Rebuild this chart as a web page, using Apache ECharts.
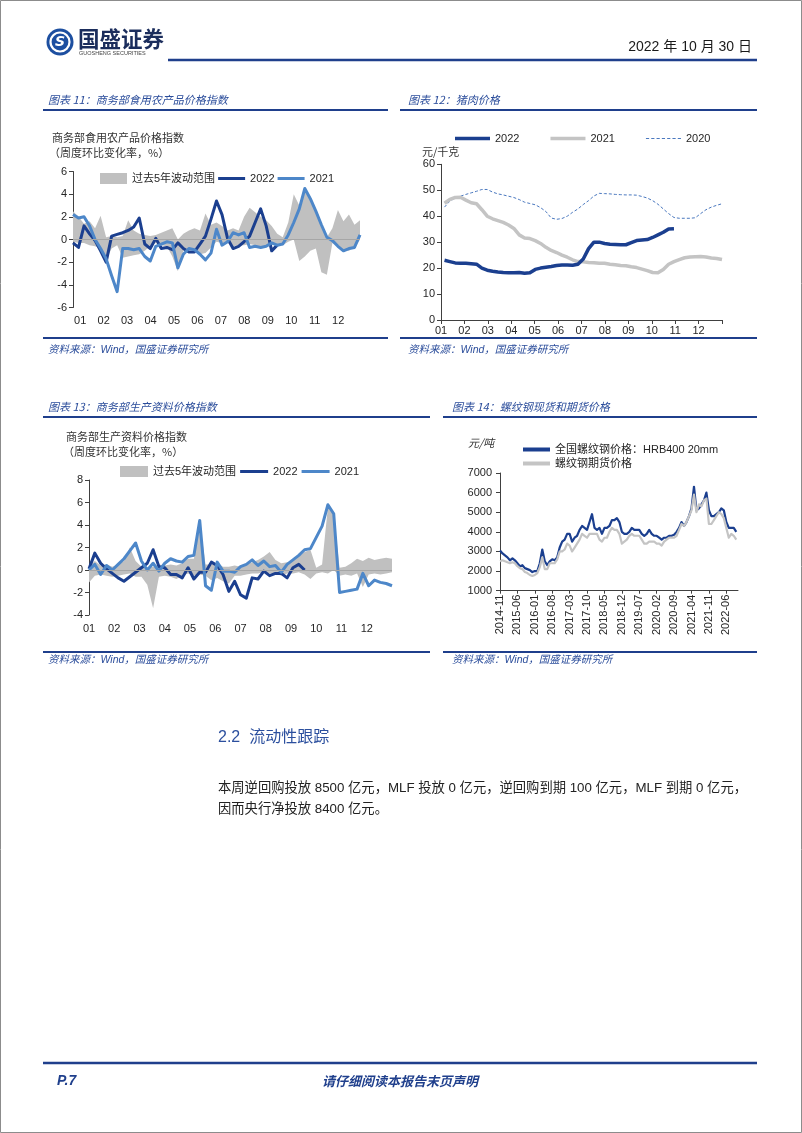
<!DOCTYPE html>
<html><head><meta charset="utf-8">
<script src="https://cdn.jsdelivr.net/npm/echarts@6/dist/echarts.min.js"></script>
<style>html,body{margin:0;padding:0;background:#fff}#c{width:802px;height:1133px}</style>
</head><body><div id="c"></div>
<script>
// ---------------- DATA ----------------
const monthLabels = ['01','02','03','04','05','06','07','08','09','10','11','12'];

// 图表11 商务部食用农产品价格指数 (weekly, % w/w)
const foodBandHigh = [2.5,2.0,1.4,1.6,1.0,2.1,0.2,0.3,0.2,0.3, 1.7,0.8,0.5,0.4,0.3,0.4,0.6,0.8,1.0,0.0, 0.5,0.8,1.0,0.8,2.3,1.3,1.5,1.2,0.8,1.0, 0.8,2.0,2.8,2.4,2.0,1.7,1.2,0.5,0.2,1.5, 4.0,3.0,4.4,3.5,2.4,1.3,0.2,1.0,2.6,1.6, 2.2,1.3,1.7];
const foodBandLow = [-0.2,-0.3,-0.3,-0.5,-0.6,-0.8,-1.8,-0.8,-0.5,-1.6, -1.5,-1.4,-1.3,-1.0,-0.6,-0.3,-0.5,-0.6,-1.5,-2.8, -1.0,-0.8,-0.9,-1.3,-1.2,-0.7,-0.2,-0.3,-0.3,-0.6, -0.5,-0.5,-0.4,-0.5,-0.7,-0.6,-0.5,-0.4,-0.5,-0.2, 0.0,-1.9,-1.5,-1.0,-0.8,-2.9,-3.1,-0.3,-0.5,-0.9, -1.0,-0.7,0.0];
const food2022 = [-0.3,-0.7,1.2,0.5,-0.1,-1.0,-2.0,0.3,0.45,0.6, 0.8,1.1,1.9,-0.4,-0.8,0.1,-0.8,-0.7,-0.9,-0.3, -0.8,-1.1,-1.1,-0.4,0.3,1.8,3.4,2.2,0.1,-0.8, -0.6,-0.2,0.3,1.5,2.7,1.2,-1.0,-0.5];
const food2021 = [2.2,1.9,2.0,1.2,0.0,-0.8,-1.7,-3.2,-4.6,-0.8, -0.8,-0.9,-0.8,-1.5,-1.9,-0.6,-0.4,-0.2,-0.3,-2.5, -1.3,-0.8,-0.9,-1.3,-1.8,-1.2,0.9,-0.5,-0.2,0.6, 0.4,0.6,-0.7,-0.6,-0.7,-0.6,-0.3,-0.5,-0.4,0.4, 1.5,2.7,4.5,3.6,2.5,1.3,0.2,-0.1,-0.6,-1.0, -0.8,-0.7,0.4];

// 图表12 猪肉价格 (元/千克, weekly)
const pork2022 = [23.0,22.5,22.0,21.9,21.9,21.7,21.5,20.0,19.2,18.8, 18.5,18.3,18.2,18.2,18.3,18.0,18.2,19.5,20.0,20.3, 20.6,21.0,21.2,21.2,21.1,21.5,23.5,27.5,30.0,30.0, 29.5,29.2,29.1,29.0,29.0,29.8,30.6,30.8,31.0,31.8, 32.8,33.8,35.1,35.2];
const pork2021 = [45.0,46.5,47.2,47.3,46.2,45.2,44.8,42.5,40.0,39.0, 38.3,37.6,36.6,35.3,32.8,31.6,31.4,30.6,29.5,28.0, 26.8,26.0,25.0,24.2,23.2,22.5,22.4,22.2,22.1,21.9, 21.9,21.5,21.3,21.0,20.9,20.5,20.2,19.6,19.0,18.3, 18.2,19.5,21.5,22.5,23.3,24.0,24.3,24.4,24.5,24.3, 23.9,23.7,23.3];
const pork2020 = [43.5,45.8,47.0,47.7,48.4,49.0,49.6,50.3,50.3,49.3, 48.6,48.2,47.7,47.2,46.4,45.4,44.9,44.4,43.3,41.8, 39.3,38.8,39.1,40.0,41.5,42.8,44.5,46.0,47.8,48.8, 48.7,48.6,48.4,48.3,48.2,48.2,48.1,47.6,47.0,46.0, 44.6,42.8,41.0,39.5,39.2,39.2,39.2,39.4,41.0,42.5, 43.5,44.2,44.8];

// 图表13 商务部生产资料价格指数 (weekly, % w/w)
const prodBandHigh = [0.3,0.8,0.4,0.5,0.3,0.5,0.8,2.0,0.8,0.3, 0.2,0.3,0.5,0.4,0.5,0.4,0.6,1.0,1.0,4.3, 0.5,0.5,0.6,0.3,0.3,0.4,0.3,0.5,0.7,0.9, 1.2,1.6,0.9,0.6,0.7,0.8,1.2,1.6,1.8,0.2, 0.5,5.6,5.0,0.2,0.3,0.6,1.0,0.8,1.1,0.9, 1.0,1.1,1.0];
const prodBandLow = [-1.1,-0.5,-0.4,-0.5,-0.6,-0.5,-0.4,-0.3,-0.6,-0.6, -1.3,-3.4,-0.6,-0.5,-0.6,-0.8,-0.5,-0.3,-0.5,-0.4, -0.5,-0.9,-0.7,-1.0,-1.2,-0.5,-0.5,-0.4,-0.3,-0.3, -0.2,-0.3,-0.3,-0.5,-0.3,-0.3,-0.2,-0.4,-0.8,-0.3, -0.2,-0.3,0.0,-0.5,-0.4,-0.5,-0.3,-1.5,-0.4,-0.3, -0.4,-0.3,-0.2];
const prod2022 = [0.1,1.5,0.6,0.1,-0.3,-0.7,-1.0,-0.6,-0.2,0.2, 0.6,1.8,0.3,0.2,-0.4,-0.4,-0.7,0.2,-0.8,-0.2, -0.2,0.7,0.4,-0.4,-1.9,-1.0,-2.2,-2.5,-0.7,-0.8, -0.1,-0.5,-0.3,-0.3,-0.7,0.2,0.5,0.0];
const prod2021 = [0.0,0.5,-0.4,0.4,0.0,0.5,1.0,1.7,2.4,0.8, 0.0,0.6,-0.1,0.6,1.0,0.8,0.7,1.2,1.3,4.4, -1.4,-1.8,0.7,-0.1,-0.1,-0.2,0.3,0.5,0.9,0.4, 0.8,0.3,0.4,-0.2,0.5,0.9,1.3,1.8,1.9,2.9, 3.9,5.8,5.0,-2.0,-1.9,-1.8,-1.7,-0.3,-1.4,-0.9, -1.1,-1.2,-1.4];

// 图表14 螺纹钢现货和期货价格 (元/吨, monthly from 2014-11)
const steelLabels = ['2014-11','2015-06','2016-01','2016-08','2017-03','2017-10','2018-05','2018-12','2019-07','2020-02','2020-09','2021-04','2021-11','2022-06'];
const steelSpot = [3050,2900,
 2800,2700,2550,2650,2550,2400,2250,2300,2150,2100,2050,1950,
 2000,2000,2400,3100,2500,2300,2500,2600,2550,2700,3200,3500,
 3600,3900,3900,3500,3700,3800,4100,4300,4200,4100,4500,4900,
 4200,4100,4200,3900,4200,4200,4300,4600,4600,4700,4500,4000,
 3900,3900,4000,4200,4100,4100,4100,3900,3800,3900,4100,3900,
 3800,3800,3700,3600,3700,3700,3800,3800,3850,4000,4200,4500,
 4300,4500,4800,5200,6300,5100,5200,5400,5600,6000,5100,4800,
 4800,4900,5000,5200,5100,4500,4200,4200,4200,4000];
const steelFutures = [2500,2550,
 2500,2450,2400,2450,2400,2250,2150,2100,1950,1900,1800,1750,
 1800,1900,2200,2700,2100,2100,2400,2400,2400,2600,3000,3000,
 3100,3400,3300,3000,3200,3400,3600,3900,3800,3700,3900,3900,
 3900,3900,3600,3500,3700,3700,4000,4200,4100,4100,3900,3400,
 3500,3600,3800,3900,3800,3800,3800,3600,3400,3400,3500,3500,
 3500,3400,3400,3300,3500,3600,3700,3700,3700,3800,4100,4400,
 4300,4500,4800,5100,5900,5000,5400,5300,5600,5700,4400,4400,
 4600,4800,5000,4900,4700,4200,3700,3900,3800,3600];

// ---------------- STYLE ----------------
const FONT = "'Liberation Sans', 'Noto Sans CJK SC', sans-serif";
const CJK = "'Noto Sans CJK SC', sans-serif";
const C = {dark:'#1b3f8f', light:'#4d87c9', band:'#c0c0c0', gray:'#c4c4c4', dash:'#4a78bf',
  axis:'#404040', zero:'#a6a6a6', text:'#262626', title:'#2b4d9b', rule:'#1f3f8c'};

const chart = echarts.init(document.getElementById('c'), null, {renderer:'canvas', width:802, height:1133});

function T(text, x, y, font, fill, align) {
  return {type:'text', silent:true, style:{text, x, y, font, fill, align: align || 'left', verticalAlign:'middle'}};
}
function L(x1, x2, y, w, color) {
  return {type:'line', silent:true, shape:{x1, y1:y, x2, y2:y}, style:{stroke:color, lineWidth:w}};
}
// legend icons: solid bar / dashed bar as paths
const barIcon = (w, h) => `path://M0,0H${w}V${h}H0Z`;
function dashIcon(w, h, on, off) {
  let d = '';
  for (let x = 0; x < w; x += on + off) d += `M${x},0H${Math.min(x + on, w)}V${h}H${x}Z`;
  return 'path://' + d;
}

const weeks = n => Array.from({length:n}, (_, i) => i);
const diff = (a, b) => a.map((v, i) => +(v - b[i]).toFixed(2));
const labelPos11 = monthLabels.map((_, i) => +(1.3 + i * 4.25).toFixed(2));
const labelPos13 = monthLabels.map((_, i) => +(i * 52 / 12).toFixed(2));
const porkX = w => 0.15 + w * (11.85 / 52);
const steelLabelIdx = steelLabels.map((_, i) => i * 7);

const axisLineStyle = {show:true, lineStyle:{color:C.axis, width:1}};
const yTick = {show:true, length:4, lineStyle:{color:C.axis}};
const lbl = {fontSize:11, color:C.text, fontFamily:FONT};

function weekXAxis(grid) {
  return {type:'category', gridIndex:grid, data:weeks(53), boundaryGap:false,
    axisLine:{show:false}, axisTick:{show:false}, splitLine:{show:false}, axisLabel:{show:false}};
}
function monthLabelAxis(grid, pos) {
  return {type:'value', gridIndex:grid, min:0, max:52, position:'bottom',
    axisLine:{show:false}, axisTick:{show:false}, splitLine:{show:false},
    axisLabel:Object.assign({}, lbl, {margin:8, customValues:pos,
      formatter:v => { const k = pos.indexOf(v); return k >= 0 ? monthLabels[k] : ''; }})};
}
function pctYAxis(grid, min, max) {
  return {type:'value', gridIndex:grid, min, max, interval:2, axisLine:axisLineStyle, axisTick:yTick,
    splitLine:{show:false}, axisLabel:Object.assign({}, lbl, {margin:6})};
}
function lineSeries(name, xi, data, color, width, z, extra) {
  return Object.assign({type:'line', name, xAxisIndex:xi, yAxisIndex:xi, data, symbol:'none',
    lineStyle:{color, width, join:'round'}, itemStyle:{color}, z, silent:true}, extra || {});
}
function bandSeries(name, xi, low, high, stackId) {
  return [
    {type:'line', name:stackId + 'base', xAxisIndex:xi, yAxisIndex:xi, data:low, stack:stackId, stackStrategy:'all',
      symbol:'none', lineStyle:{opacity:0, width:0}, z:1, silent:true},
    {type:'line', name, xAxisIndex:xi, yAxisIndex:xi, data:diff(high, low), stack:stackId, stackStrategy:'all',
      symbol:'none', lineStyle:{opacity:0, width:0}, areaStyle:{color:C.band, opacity:1}, itemStyle:{color:C.band}, z:1, silent:true}
  ];
}
const zeroLine = {silent:true, symbol:'none', label:{show:false}, lineStyle:{color:C.zero, width:1, type:'solid'}, data:[{yAxis:0}]};
const legendText = {fontSize:11, color:C.text, fontFamily:FONT};
const nameFmt = n => n.split('|')[0];
const li = (name, icon, color) => ({name, icon, itemStyle:{color, borderWidth:0}});

const graphics = [
  {type:'rect', silent:true, shape:{x:0.5, y:0.5, width:801, height:1132}, style:{fill:null, stroke:'#8c8c8c', lineWidth:1}},
  // logo
  {type:'circle', silent:true, shape:{cx:60, cy:42, r:13.5}, style:{fill:'#1d4fa0'}},
  {type:'circle', silent:true, shape:{cx:60, cy:42, r:9.5}, style:{fill:null, stroke:'#ffffff', lineWidth:2.2}},
  T('S', 60, 42.5, "bold italic 14px 'DejaVu Sans'", '#ffffff', 'center'),
  T('国盛证券', 78, 39, "bold 21.5px " + CJK, '#1b2d5c'),
  T('GUOSHENG SECURITIES', 79, 53, "5.5px 'Liberation Sans'", '#444444'),
  T('2022 年 10 月 30 日', 752, 47, "14px " + FONT, '#1a1a1a', 'right'),
  L(168, 757, 60, 2.5, C.rule),
  // chart titles & rules
  T('图表 11：商务部食用农产品价格指数', 48, 100, "italic 11px " + CJK, C.title),
  T('图表 12：猪肉价格', 408, 100, "italic 11px " + CJK, C.title),
  L(43, 388, 110, 2, C.rule), L(400, 757, 110, 2, C.rule),
  L(43, 388, 338, 2, C.rule), L(400, 757, 338, 2, C.rule),
  T('资料来源：Wind，国盛证券研究所', 48, 350, "italic 10.5px " + FONT, C.title),
  T('资料来源：Wind，国盛证券研究所', 408, 350, "italic 10.5px " + FONT, C.title),
  T('图表 13：商务部生产资料价格指数', 48, 407, "italic 11px " + CJK, C.title),
  T('图表 14：螺纹钢现货和期货价格', 452, 407, "italic 11px " + CJK, C.title),
  L(43, 430, 417, 2, C.rule), L(443, 757, 417, 2, C.rule),
  L(43, 430, 652, 2, C.rule), L(443, 757, 652, 2, C.rule),
  T('资料来源：Wind，国盛证券研究所', 48, 660, "italic 10.5px " + FONT, C.title),
  T('资料来源：Wind，国盛证券研究所', 452, 660, "italic 10.5px " + FONT, C.title),
  // axis captions
  T('商务部食用农产品价格指数', 52, 138, "11px " + CJK, '#333333'),
  T('（周度环比变化率，%）', 49, 153, "11px " + CJK, '#333333'),
  T('元/千克', 422, 152, "11px " + CJK, '#333333'),
  T('商务部生产资料价格指数', 66, 437, "11px " + CJK, '#333333'),
  T('（周度环比变化率，%）', 63, 452, "11px " + CJK, '#333333'),
  T('元/吨', 468, 443, "italic 11px " + CJK, '#333333'),
  // body text
  T('2.2  流动性跟踪', 218, 738, "16px " + FONT, '#2b4f9e'),
  T('本周逆回购投放 8500 亿元，MLF 投放 0 亿元，逆回购到期 100 亿元，MLF 到期 0 亿元，', 218, 788, "13.3px " + FONT, '#222222'),
  T('因而央行净投放 8400 亿元。', 218, 809, "13.3px " + FONT, '#222222'),
  // footer
  L(43, 757, 1063, 2.5, C.rule),
  T('P.7', 57, 1081, "bold italic 14px " + FONT, C.rule),
  T('请仔细阅读本报告末页声明', 400, 1081, "italic bold 13px " + CJK, C.rule, 'center')
];

const option = {
  animation:false,
  backgroundColor:'#ffffff',
  textStyle:{fontFamily:FONT},
  graphic:graphics,
  grid:[
    {left:73, top:171.5, width:287, height:136},
    {left:441, top:164.3, width:281, height:155.7},
    {left:89, top:480, width:303, height:135},
    {left:500, top:473, width:238, height:117.7}
  ],
  xAxis:[
    weekXAxis(0),
    {type:'value', gridIndex:1, min:0, max:12, interval:1, axisLine:axisLineStyle,
      axisTick:{show:true, length:4, lineStyle:{color:C.axis}}, splitLine:{show:false},
      axisLabel:Object.assign({}, lbl, {margin:5, formatter:v => v < 12 ? monthLabels[v] : ''})},
    weekXAxis(2),
    {type:'value', gridIndex:3, min:0, max:95.7, axisLine:axisLineStyle,
      axisTick:{show:true, length:3, customValues:steelLabelIdx, lineStyle:{color:C.axis}}, splitLine:{show:false},
      axisLabel:Object.assign({}, lbl, {margin:4, rotate:90, customValues:steelLabelIdx,
        formatter:v => steelLabels[steelLabelIdx.indexOf(v)] || ''})},
    monthLabelAxis(0, labelPos11),
    monthLabelAxis(2, labelPos13)
  ],
  yAxis:[
    pctYAxis(0, -6, 6),
    {type:'value', gridIndex:1, min:0, max:60, interval:10, axisLine:axisLineStyle, axisTick:yTick,
      splitLine:{show:false}, axisLabel:Object.assign({}, lbl, {margin:6})},
    pctYAxis(2, -4, 8),
    {type:'value', gridIndex:3, min:1000, max:7000, interval:1000, axisLine:axisLineStyle, axisTick:yTick,
      splitLine:{show:false}, axisLabel:Object.assign({}, lbl, {margin:8, formatter:v => String(v)})}
  ],
  legend:[
    {left:100, top:173, padding:0, itemWidth:27, itemHeight:11, itemGap:3, selectedMode:false, textStyle:legendText, formatter:nameFmt,
      data:[li('过去5年波动范围|a', 'rect', C.band), li('2022|a', barIcon(27, 3), C.dark), li('2021|a', barIcon(27, 3), C.light)]},
    {left:455, top:133, padding:0, itemWidth:35, itemHeight:11, itemGap:31, selectedMode:false, textStyle:legendText, formatter:nameFmt,
      data:[li('2022|b', barIcon(35, 3.5), C.dark), li('2021|b', barIcon(35, 3.5), C.gray), li('2020', dashIcon(35, 1, 3, 2), C.dash)]},
    {left:120, top:466, padding:0, itemWidth:28, itemHeight:11, itemGap:4, selectedMode:false, textStyle:legendText, formatter:nameFmt,
      data:[li('过去5年波动范围|b', 'rect', C.band), li('2022|c', barIcon(28, 3), C.dark), li('2021|c', barIcon(28, 3), C.light)]},
    {left:523, top:444, padding:0, orient:'vertical', itemWidth:27, itemHeight:11, itemGap:3, selectedMode:false, textStyle:legendText,
      data:[li('全国螺纹钢价格：HRB400 20mm', barIcon(27, 4), C.dark), li('螺纹钢期货价格', barIcon(27, 4), C.gray)]}
  ],
  series:[
    ...bandSeries('过去5年波动范围|a', 0, foodBandLow, foodBandHigh, 'b11'),
    lineSeries('2022|a', 0, food2022, C.dark, 3, 3, {markLine:zeroLine}),
    lineSeries('2021|a', 0, food2021, C.light, 3, 4),

    lineSeries('2020', 1, pork2020.map((v, w) => [porkX(w), v]), C.dash, 1, 2, {lineStyle:{color:C.dash, width:1, type:[3, 2]}}),
    lineSeries('2021|b', 1, pork2021.map((v, w) => [porkX(w), v]), C.gray, 3.5, 3),
    lineSeries('2022|b', 1, pork2022.map((v, w) => [porkX(w), v]), C.dark, 3.5, 4),

    ...bandSeries('过去5年波动范围|b', 2, prodBandLow, prodBandHigh, 'b13'),
    lineSeries('2022|c', 2, prod2022, C.dark, 3, 3, {markLine:zeroLine}),
    lineSeries('2021|c', 2, prod2021, C.light, 3, 4),

    lineSeries('全国螺纹钢价格：HRB400 20mm', 3, steelSpot.map((v, i) => [i, v]), C.dark, 2.2, 3),
    lineSeries('螺纹钢期货价格', 3, steelFutures.map((v, i) => [i, v]), C.gray, 2.2, 4)
  ]
};
chart.setOption(option);
</script></body></html>
